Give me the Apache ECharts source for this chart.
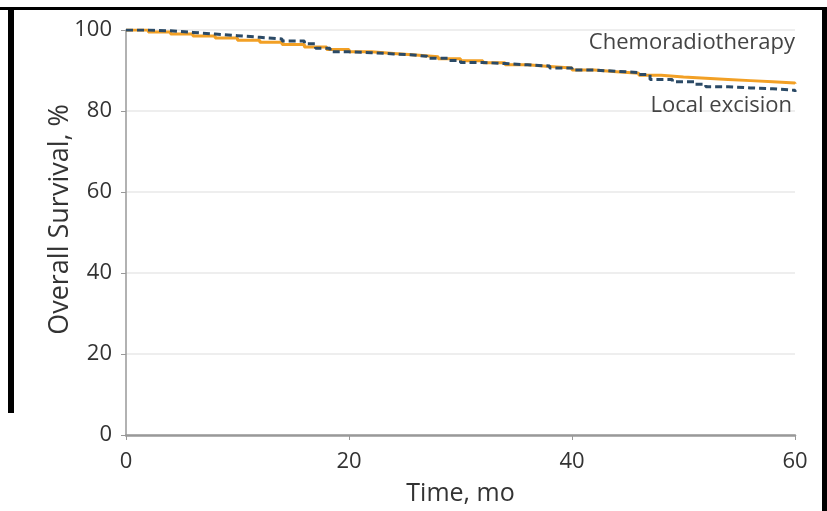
<!DOCTYPE html>
<html>
<head>
<meta charset="utf-8">
<script src="https://cdn.jsdelivr.net/npm/echarts@6/dist/echarts.min.js"></script>
<style>
  html, body { margin: 0; padding: 0; background: #fff; }
  #tubiao { width: 827px; height: 511px; }
</style>
</head>
<body>
<div id="tubiao"></div>
<script>
// 数据
var xTicks = [0, 20, 40, 60];
var yTicks = [0, 20, 40, 60, 80, 100];

var chemoTime = [0, 2, 4, 6, 8, 10, 12, 14, 16, 18, 20, 22, 24, 26, 28, 30, 32, 34, 36, 38, 40, 42, 44, 46, 48, 50, 52, 54, 56, 58, 60];
var chemoSurv = [100, 99.5, 99.0, 98.5, 98.0, 97.5, 97.0, 96.4, 95.8, 95.2, 94.6, 94.2, 93.8, 93.4, 92.9, 92.4, 91.9, 91.4, 91.0, 90.6, 90.1, 89.7, 89.3, 88.8, 88.4, 88.1, 87.8, 87.5, 87.2, 86.9, 86.7];

var localTime = [0, 2, 4, 6, 8, 10, 12, 14, 16, 17, 18.3, 20, 22, 24, 25.5, 27, 29, 30, 32, 34, 36, 38, 40, 42, 44, 46, 47, 49, 51, 52, 54, 56, 58, 60];
var localSurv = [100, 99.8, 99.4, 99.0, 98.6, 98.2, 97.8, 97.3, 96.6, 95.5, 94.6, 94.4, 94.1, 93.9, 93.5, 93.0, 92.5, 92.0, 91.7, 91.4, 91.1, 90.6, 90.1, 89.8, 89.5, 89.0, 87.8, 87.2, 86.6, 86.0, 85.7, 85.5, 85.1, 84.7];

var seriesNames = ['Chemoradiotherapy', 'Local excision'];

function pairs(t, s) {
    var out = [];
    for (var i = 0; i < t.length; i++) out.push([t[i], s[i]]);
    return out;
}

var fontFam = '"Open Sans", "DejaVu Sans", sans-serif';
var myChart = echarts.init(document.getElementById('tubiao'));
var option = {
    backgroundColor: '#fff',
    animation: false,
    grid: { left: 126, right: 32, top: 30, bottom: 74 },
    xAxis: {
        type: 'value',
        min: xTicks[0],
        max: xTicks[xTicks.length - 1],
        interval: 20,
        name: 'Time, mo',
        nameLocation: 'middle',
        nameGap: 46,
        nameTextStyle: { fontFamily: fontFam, fontSize: 25, color: '#333' },
        axisLine: { lineStyle: { color: '#999', width: 2.5 } },
        axisTick: { show: true, inside: false, length: 5, lineStyle: { color: '#999' } },
        axisLabel: { fontFamily: fontFam, fontSize: 22, color: '#333', margin: 16 },
        splitLine: { show: false }
    },
    yAxis: {
        type: 'value',
        min: yTicks[0],
        max: yTicks[yTicks.length - 1],
        interval: 20,
        name: 'Overall Survival, %',
        nameLocation: 'middle',
        nameGap: 52,
        nameMoveOverlap: false,
        nameTextStyle: { fontFamily: fontFam, fontSize: 27, color: '#333', padding: [0, 0, 0, 26] },
        axisLine: { show: true, lineStyle: { color: '#999', width: 1.5 } },
        axisTick: { show: true, length: 5, lineStyle: { color: '#999' } },
        axisLabel: { fontFamily: fontFam, fontSize: 22, color: '#333', margin: 14 },
        splitLine: { show: true, lineStyle: { color: '#eeeeee', width: 2 } }
    },
    series: [
        {
            name: seriesNames[0],
            type: 'line',
            step: 'end',
            symbol: 'none',
            data: pairs(chemoTime, chemoSurv),
            lineStyle: { color: '#f2a025', width: 3 },
            z: 2
        },
        {
            name: seriesNames[1],
            type: 'line',
            step: 'end',
            symbol: 'none',
            data: pairs(localTime, localSurv),
            lineStyle: { color: '#2b4a66', width: 3, type: [7, 4] },
            z: 3
        }
    ],
    graphic: [
        { type: 'text', right: 32, top: 32, z: 50, style: { text: seriesNames[0], fontFamily: fontFam, fontSize: 22, fill: '#444' } },
        { type: 'text', right: 35, top: 95, z: 50, style: { text: seriesNames[1], fontFamily: fontFam, fontSize: 22, fill: '#444' } },
        // 黑色边框
        { type: 'rect', shape: { x: 0, y: 7, width: 827, height: 3 }, style: { fill: '#000' }, z: 100 },
        { type: 'rect', shape: { x: 8, y: 7, width: 6, height: 406 }, style: { fill: '#000' }, z: 100 },
        { type: 'rect', shape: { x: 822, y: 7, width: 5, height: 504 }, style: { fill: '#000' }, z: 100 }
    ]
};
myChart.setOption(option);
</script>
</body>
</html>
